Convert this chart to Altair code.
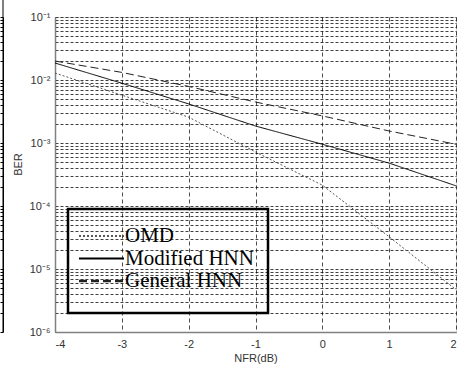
import altair as alt
import pandas as pd

nfr = [-4, -3, -2, -1, 0, 1, 2]
ber_omd = [1.29e-2, 5.75e-3, 2.57e-3, 7.2e-4, 2.14e-4, 3.24e-5, 4.7e-6]
ber_modified = [1.86e-2, 8.9e-3, 4.17e-3, 1.86e-3, 9.55e-4, 4.79e-4, 2.09e-4]
ber_general = [2.0e-2, 1.32e-2, 7.9e-3, 4.47e-3, 2.69e-3, 1.55e-3, 9.55e-4]
series = ["OMD", "Modified HNN", "General HNN"]
x_ticks = [-4, -3, -2, -1, 0, 1, 2]
decades = [-6, -5, -4, -3, -2, -1]
dec_labels = ["10⁻⁶", "10⁻⁵", "10⁻⁴", "10⁻³", "10⁻²", "10⁻¹"]

rows = []
for name, vals in zip(series, [ber_omd, ber_modified, ber_general]):
    for x, v in zip(nfr, vals):
        rows.append({"NFR": x, "BER": v, "series": name})
df = pd.DataFrame(rows)
leg_df = pd.DataFrame({"series": series})

y_values = []
for e in decades[:-1]:
    for k in range(1, 10):
        y_values.append(float(f"{k}e{e}"))
y_values.append(1e-1)

label_expr = (
    "abs(log(datum.value)/LN10 - round(log(datum.value)/LN10)) < 0.001 ? "
    + "[" + ",".join(f"'{s}'" for s in dec_labels) + "][round(log(datum.value)/LN10)+6] : ''"
)

yscale = alt.Scale(type="log", domain=[1e-6, 1e-1], nice=False)
xscale = alt.Scale(domain=[-4, 2], nice=False)
color_scale = alt.Scale(domain=series, range=["#555555", "#000000", "#222222"])
dash_scale = alt.Scale(domain=series, range=[[2, 2], [1, 0], [8, 4]])

lines = alt.Chart(df).mark_line(strokeWidth=1).encode(
    x=alt.X("NFR:Q", scale=xscale,
            axis=alt.Axis(title="NFR(dB)", values=x_ticks, labelExpr="datum.value",
                          grid=True, gridDash=[4, 3], gridColor="#000", gridOpacity=0.7,
                          ticks=False, domainColor="#808080", domainWidth=1.5,
                          labelFont="Liberation Sans", labelFontSize=11, labelColor="#333",
                          labelPadding=6, titleFont="Liberation Sans", titleFontSize=11,
                          titleFontWeight="normal", titleColor="#333", titlePadding=3)),
    y=alt.Y("BER:Q", scale=yscale,
            axis=alt.Axis(title="BER", values=y_values, labelExpr=label_expr,
                          grid=True, gridDash=[3, 2], gridColor="#000", gridOpacity=0.75,
                          ticks=False, domainColor="#808080", domainWidth=1.5,
                          labelFont="Liberation Sans", labelFontSize=11, labelColor="#333",
                          labelPadding=5, labelOverlap=False,
                          titleFont="Liberation Sans", titleFontSize=11,
                          titleFontWeight="normal", titleColor="#333",
                          titleX=-32, titleY=147)),
    color=alt.Color("series:N", scale=color_scale, legend=None),
    strokeDash=alt.StrokeDash("series:N", scale=dash_scale, legend=None),
)

# fragment of the neighbouring panel at the far left
frag_axis = alt.Chart(df).mark_point(opacity=0).encode(
    y=alt.Y("BER:Q", scale=yscale,
            axis=alt.Axis(orient="left", offset=52, title=None, values=y_values, labels=False,
                          grid=False, tickSize=3, tickColor="#000", domainColor="#000"))
)
frag_rule = alt.Chart(leg_df.head(1)).mark_rule(color="#000", strokeWidth=1).encode(
    x=alt.value(-52), y=alt.value(-17), y2=alt.value(315)
)

# legend drawn from the series list
leg_y = alt.Y("series:N", scale=alt.Scale(type="point", domain=series, range=[219, 264], padding=0), axis=None)
leg_box = alt.Chart(leg_df.head(1)).mark_rect(filled=False, stroke="#000", strokeWidth=2.5).encode(
    x=alt.value(13), x2=alt.value(213), y=alt.value(192), y2=alt.value(296)
)
leg_sym = alt.Chart(leg_df).mark_rule().encode(
    x=alt.value(24), x2=alt.value(69), y=leg_y,
    color=alt.Color("series:N", scale=alt.Scale(domain=series, range=["#222222", "#000000", "#222222"]),
                    legend=None),
    strokeDash=alt.StrokeDash("series:N", scale=dash_scale, legend=None),
    strokeWidth=alt.StrokeWidth("series:N", scale=alt.Scale(domain=series, range=[1.5, 2.5, 1.3]),
                                legend=None),
)
leg_txt = alt.Chart(leg_df).mark_text(align="left", baseline="middle", font="Liberation Serif",
                                      fontSize=21, color="#000").encode(
    x=alt.value(70), y=leg_y, text="series:N"
)

chart = alt.layer(lines, frag_axis, frag_rule, leg_box, leg_sym, leg_txt).resolve_axis(
    y="independent").resolve_scale(y="independent", color="independent").properties(
    width=401, height=315,
    autosize=alt.AutoSizeParams(type="none"),
    padding={"left": 55, "top": 17, "right": 7, "bottom": 35},
).configure_view(stroke="#000", strokeWidth=1).configure(background="white")

chart.save("out.html", embed_options={"renderer": "svg", "actions": False})
